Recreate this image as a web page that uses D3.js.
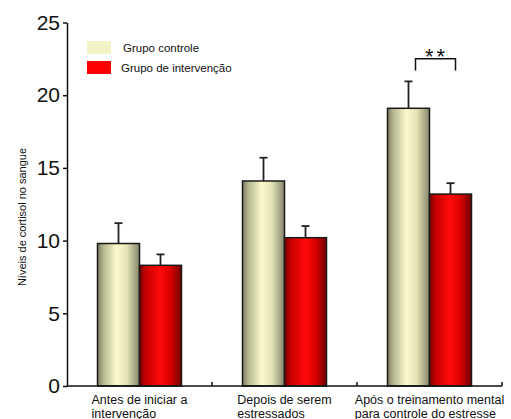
<!DOCTYPE html>
<html>
<head>
<meta charset="utf-8">
<script src="https://cdn.jsdelivr.net/npm/d3@7.9.0/dist/d3.min.js"></script>
<style>
  body { margin: 0; background: #fff; }
  svg { display: block; font-family: "Liberation Sans", Arial, sans-serif; }
</style>
</head>
<body>
<svg width="511" height="419"></svg>
<script>
// data
const categories = [
  ["Antes de iniciar a", "intervenção"],
  ["Depois de serem", "estressados"],
  ["Após o treinamento mental", "para controle do estresse"]
];
const groups = ["Grupo controle", "Grupo de intervenção"];
const controlValues = [9.8, 14.1, 19.1];
const controlErrors = [1.4, 1.6, 1.85];
const interventionValues = [8.3, 10.2, 13.2];
const interventionErrors = [0.75, 0.8, 0.75];
const yTicks = [0, 5, 10, 15, 20, 25];

let svg = d3.select("svg");
let defs = svg.append("defs");

// bar gradients
function gradient(id, stops) {
  let g = defs.append("linearGradient").attr("id", id)
    .attr("x1", "0%").attr("x2", "100%").attr("y1", "0%").attr("y2", "0%");
  stops.forEach(([o, c]) => g.append("stop").attr("offset", o).attr("stop-color", c));
}
gradient("gCtrl", [["0%", "#7d7d62"], ["15%", "#b9b993"], ["45%", "#fafacb"], ["70%", "#e3e3b6"], ["100%", "#85856a"]]);
gradient("gInt", [["0%", "#780000"], ["15%", "#c80000"], ["50%", "#ff0a0a"], ["75%", "#d60000"], ["100%", "#6e0000"]]);

let x = d3.scaleBand().domain(d3.range(categories.length)).range([67, 502]).padding(0);
let y = d3.scaleLinear().domain([0, 25]).range([386, 22.5]);
let barW = 42;
let xSub = d3.scaleBand().domain([0, 1])
  .range([x.bandwidth() / 2 - barW, x.bandwidth() / 2 + barW]).padding(0);

let data = [];
categories.forEach((c, i) => {
  data.push({ cat: i, g: 0, v: controlValues[i], e: controlErrors[i] });
  data.push({ cat: i, g: 1, v: interventionValues[i], e: interventionErrors[i] });
});

// error bars (upward only)
let err = svg.append("g").attr("stroke", "#222").attr("stroke-width", 1.8);
data.forEach(d => {
  let cx = x(d.cat) + xSub(d.g) + barW / 2;
  err.append("line").attr("x1", cx).attr("x2", cx).attr("y1", y(d.v)).attr("y2", y(d.v + d.e));
  err.append("line").attr("x1", cx - 4).attr("x2", cx + 4).attr("y1", y(d.v + d.e)).attr("y2", y(d.v + d.e));
});

// bars
svg.append("g").selectAll("rect")
  .data(data)
  .enter()
  .append("rect")
  .attr("x", d => x(d.cat) + xSub(d.g))
  .attr("y", d => y(d.v))
  .attr("width", barW)
  .attr("height", d => y(0) - y(d.v))
  .attr("fill", d => d.g === 0 ? "url(#gCtrl)" : "url(#gInt)")
  .attr("stroke", "#1a1a1a")
  .attr("stroke-width", 1.5);

// y axis
let yAxis = svg.append("g").attr("transform", "translate(67,0)")
  .call(d3.axisLeft(y).tickValues(yTicks).tickSize(4).tickSizeOuter(0).tickPadding(3));
yAxis.selectAll("text").attr("font-size", 21).attr("fill", "#111")
  .attr("font-family", "Liberation Sans, Arial, sans-serif");
yAxis.selectAll("line, path").attr("stroke", "#111").attr("stroke-width", 1.5);

// x axis: line with small upward ticks at category boundaries
svg.append("line").attr("x1", 67).attr("x2", 502).attr("y1", y(0)).attr("y2", y(0))
  .attr("stroke", "#111").attr("stroke-width", 1.5);
svg.append("g").selectAll("line")
  .data(d3.range(1, categories.length + 1))
  .enter()
  .append("line")
  .attr("x1", i => x.range()[0] + i * x.bandwidth())
  .attr("x2", i => x.range()[0] + i * x.bandwidth())
  .attr("y1", y(0)).attr("y2", y(0) - 4)
  .attr("stroke", "#111").attr("stroke-width", 1.5);

// x labels: left aligned block centered under category
categories.forEach((lines, i) => {
  let t = svg.append("text").attr("font-size", 12.5).attr("fill", "#111").attr("y", 404);
  lines.forEach((s, k) => t.append("tspan").attr("x", 0).attr("dy", k === 0 ? 0 : 13.5).text(s));
  let w = t.node().getBBox().width;
  let left = Math.min(x(i) + x.bandwidth() / 2 - w / 2, 509 - w);
  t.selectAll("tspan").attr("x", left);
});

// y label
svg.append("text")
  .attr("transform", "translate(26,217) rotate(-90)")
  .attr("text-anchor", "middle")
  .attr("font-size", 11)
  .attr("fill", "#111")
  .text("Níveis de cortisol no sangue");

// legend
let legend = svg.append("g");
groups.forEach((g, i) => {
  legend.append("rect").attr("x", 87).attr("y", 41 + i * 20).attr("width", 24).attr("height", 13)
    .attr("fill", i === 0 ? "#f3f3c6" : "#ff0000");
  legend.append("text").attr("x", i === 0 ? 123 : 121).attr("y", 52 + i * 20)
    .attr("font-size", 11.5).attr("fill", "#111").text(g);
});

// significance bracket
let bx1 = x(2) + xSub(0) + barW / 2 + 7;
let bx2 = x(2) + xSub(1) + barW / 2 + 5;
svg.append("path")
  .attr("d", `M${bx1},${y(21.7)}V${y(22.5)}H${bx2}V${y(21.7)}`)
  .attr("fill", "none").attr("stroke", "#111").attr("stroke-width", 1.5);
svg.append("text").attr("x", (bx1 + bx2) / 2 + 1).attr("y", 64)
  .attr("text-anchor", "middle").attr("font-size", 22).attr("fill", "#111")
  .attr("letter-spacing", 3).text("**");
</script>
</body>
</html>
